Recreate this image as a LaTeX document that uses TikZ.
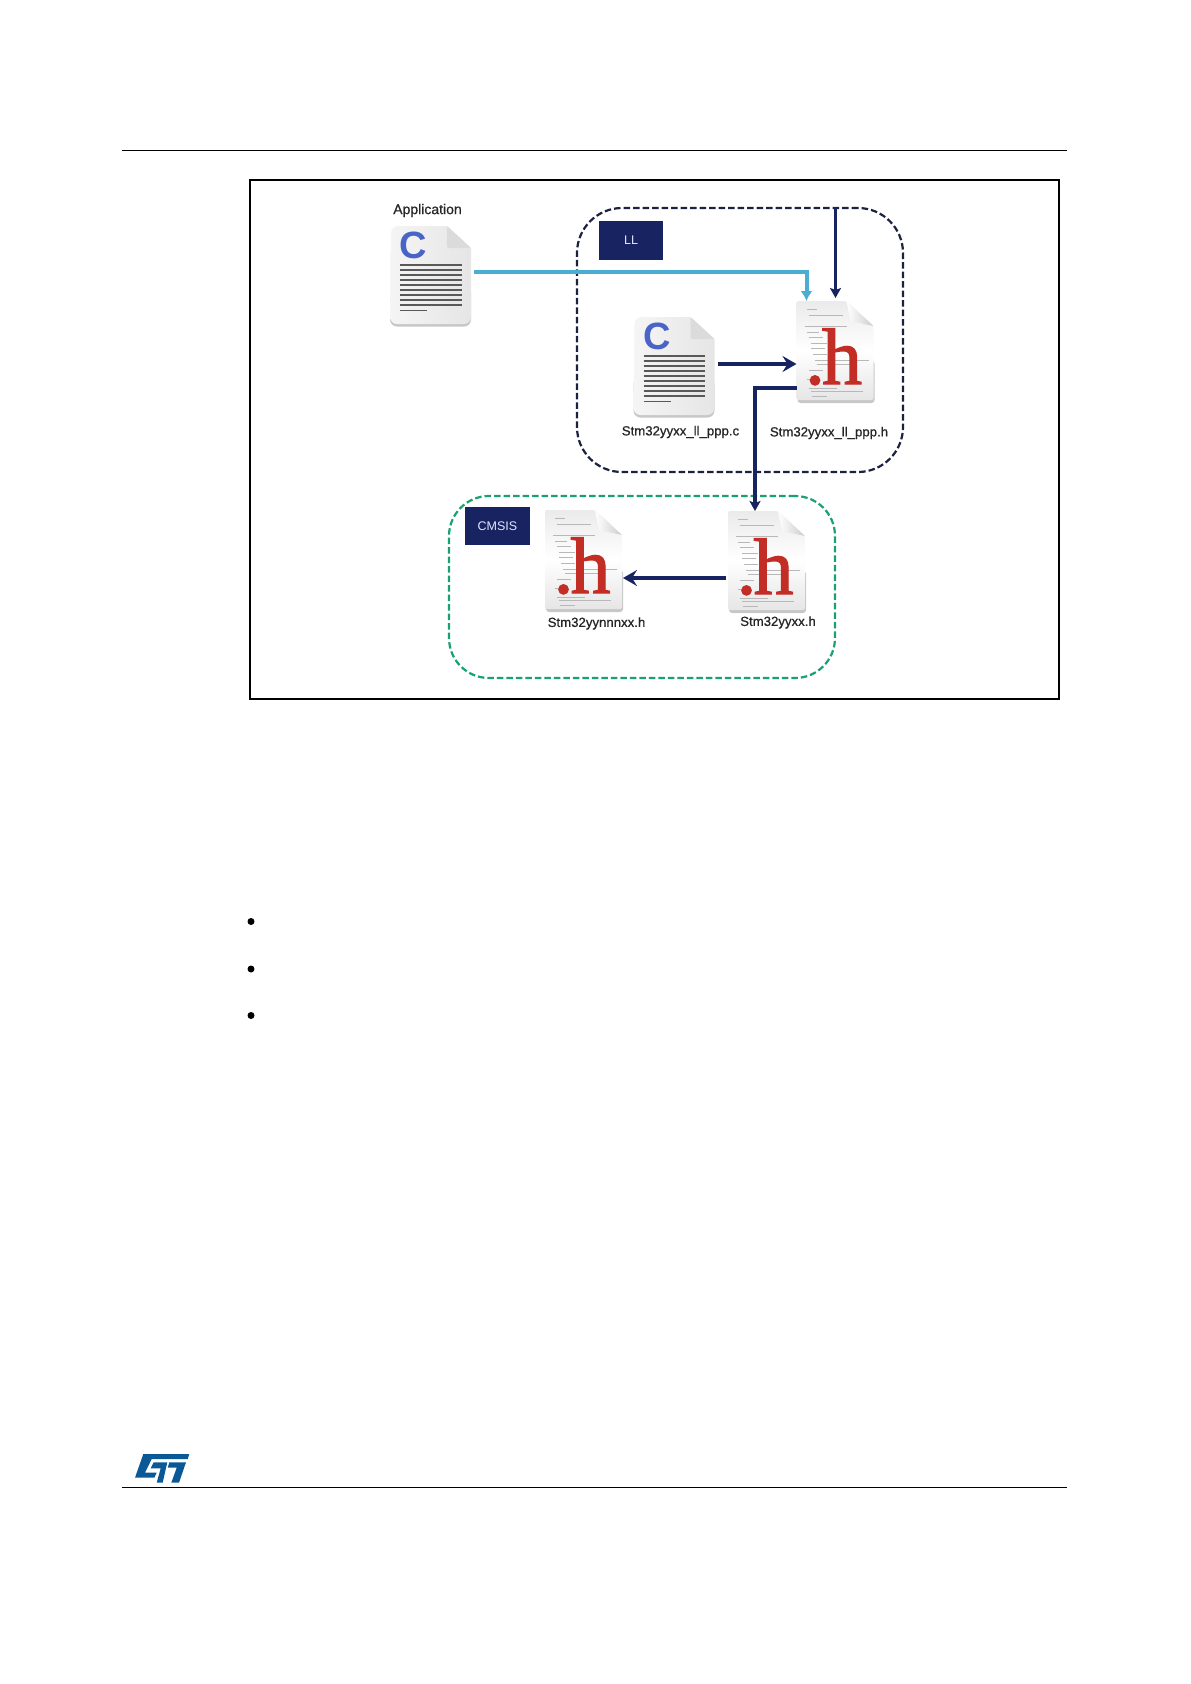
\documentclass[tikz,border=0pt]{standalone}
\usepackage{fontspec}
\setmainfont{Liberation Sans}
\newfontfamily\labelfont[FakeBold=0.8]{Liberation Sans}
\newfontfamily\serifh[FakeBold=1.5]{Liberation Serif}
\usetikzlibrary{arrows.meta,positioning,calc}
\definecolor{stnavy}{rgb}{0.09, 0.14, 0.38}
\definecolor{stink}{rgb}{0.11, 0.13, 0.25}
\definecolor{stgreen}{rgb}{0.10, 0.63, 0.44}
\definecolor{stcyan}{rgb}{0.29, 0.68, 0.82}
\definecolor{stblue}{rgb}{0.04, 0.35, 0.59}
\definecolor{cblue}{rgb}{0.29, 0.39, 0.78}
\definecolor{hred}{rgb}{0.76, 0.18, 0.15}
\tikzset{
  docbox/.style={minimum width=81pt, minimum height=100pt, inner sep=0pt, outer sep=0pt},
  hbox/.style={minimum width=78pt, minimum height=101pt, inner sep=0pt, outer sep=0pt},
  tagbox/.style={fill=stnavy, text=white!90!blue, font=\fontsize{12.5}{14}\selectfont, inner sep=0pt, outer sep=0pt},
  filelabel/.style={font=\labelfont\fontsize{13.2}{15}\selectfont, text=black!85, inner sep=0pt},
  navyarrow/.style={draw=stnavy, line width=3.6pt, -{Stealth[length=10pt,width=11pt,inset=2pt]}},
  widearrow/.style={draw=stnavy, line width=3.6pt, -{Stealth[length=14pt,width=16pt,inset=5pt]}},
  cyanarrow/.style={draw=stcyan, line width=4pt, -{Latex[length=10pt,width=12pt]}},
  bulletdot/.style={fill=black, circle, minimum size=7pt, inner sep=0pt},
  cdoc/.pic={
    \fill[black!22, rounded corners=7pt] (0,60) -- (0,100.5) -- (81,100.5) -- (81,60) -- cycle;
    \path[left color=black!4, right color=black!10, rounded corners=7pt] (20,0) [sharp corners] -- (57,0) -- (81,22) -- (81,60) [rounded corners=7pt] -- (81,98) -- (0,98) -- (1,0) -- cycle;
    \fill[black!14, rounded corners=2pt] (57,0) -- (57,22) -- (81,22) -- cycle;
    \foreach \yy in {39,44,49,54,59,64,69,74,79} {
      \draw[black!65, line width=1.4pt] (10,\yy) -- (71.5,\yy);
    }
    \draw[black!65, line width=1.4pt] (10,84.5) -- (37,84.5);
    \node[font=\bfseries\fontsize{38}{38}\selectfont, text=cblue, inner sep=0pt] (cmark) at (23.5,19.5) {C};
  },
  hdoc/.pic={
    \fill[black!22, rounded corners=3pt] (1,60) -- (1,102) -- (78,102) -- (78,60) -- cycle;
    \path[top color=black!8, bottom color=black!10, middle color=white, rounded corners=2pt] (0,0) -- (50,0) -- (77,25) -- (77,99) -- (0,99) -- cycle;
    \path[left color=white, right color=black!20] (50,0) -- (54,20) -- (77,25) -- cycle;
    \foreach \yy/\xa/\xb in {8/10/20, 14/12/46, 25/8/50, 31/10/22, 36/12/26, 42/14/30, 47/14/28, 53/16/30, 59/18/72, 63/20/60, 69/12/26, 78/10/18, 87/12/40, 90/14/66, 95/15/30} {
      \draw[black!28, line width=0.8pt] (\xa,\yy) -- (\xb,\yy);
    }
    \node[font=\serifh\fontsize{80}{80}\selectfont, text=hred, inner sep=0pt, anchor=base] (hmark) at (37,83) {.\kern-3pt h};
  }
}
\begin{document}
\begin{tikzpicture}[x=1pt,y=-1pt]
    \useasboundingbox (0,0) rectangle (1191,1684);

    \draw[line width=1pt] (122,150) -- (1067,150);
    \draw[line width=1pt] (122,1487) -- (1067,1487);
    \node[draw=black, line width=2pt, minimum width=809pt, minimum height=519pt, inner sep=0pt] (frame) at (654.5,439.5) {};

    \node[draw=stink, line width=2.2pt, dash pattern=on 6.5pt off 3pt, rounded corners=45pt, minimum width=326pt, minimum height=264pt, inner sep=0pt] (llgroup) at (740,340) {};
    \node[draw=stgreen, line width=2.2pt, dash pattern=on 6.5pt off 3pt, rounded corners=40pt, minimum width=386pt, minimum height=182pt, inner sep=0pt] (cmsisgroup) at (642,587) {};

    \node[tagbox, minimum width=64pt, minimum height=39pt] (lltag) at (631,240.5) {LL};
    \node[tagbox, minimum width=65pt, minimum height=38pt] (cmsistag) at (497.5,526) {CMSIS};

    \node[docbox] (appc) at (430.5,276) {};
    \node[docbox] (llc) at (674,367) {};
    \node[hbox] (ppph) at (835.5,351.5) {};
    \node[hbox] (yynnnxxh) at (584,560.5) {};
    \node[hbox] (yyxxh) at (767,561.5) {};

    \pic at (appc.north west) {cdoc};
    \pic at (llc.north west) {cdoc};
    \pic at (ppph.north west) {hdoc};
    \pic at (yynnnxxh.north west) {hdoc};
    \pic at (yyxxh.north west) {hdoc};

    \node[filelabel, font=\labelfont\fontsize{14}{16}\selectfont] (applabel) at (427.5,210.5) {Application};
    \node[filelabel] (llclabel) at (680.5,432) {Stm32yyxx\_ll\_ppp.c};
    \node[filelabel] (llhlabel) at (829,433) {Stm32yyxx\_ll\_ppp.h};
    \node[filelabel] (yynnnlabel) at (596.5,623.5) {Stm32yynnnxx.h};
    \node[filelabel] (yyxxlabel) at (778,622.5) {Stm32yyxx.h};

    \draw[cyanarrow] ([xshift=3,yshift=4]appc.east) -| ([xshift=10]ppph.north west);
    \draw[navyarrow] (ppph.north |- llgroup.north) -- ([yshift=3]ppph.north);
    \draw[widearrow] ([xshift=3,yshift=3]llc.east) -- ([yshift=-12.5]ppph.west);
    \draw[navyarrow] ([yshift=-36.5]ppph.west) -| ([xshift=-12]yyxxh.north);
    \draw[widearrow] ([xshift=-2,yshift=-16.5]yyxxh.west) -- ([yshift=-17.5]yynnnxxh.east);

    \node[bulletdot] (dota) at (251,921.5) {};
    \node[bulletdot] (dotb) at (251,969) {};
    \node[bulletdot] (dotc) at (251,1015.5) {};

    \fill[stblue] (143.3,1454) -- (189.3,1454) -- (187.7,1459) -- (151.7,1459) -- (145,1472.7) -- (156.7,1472.7) -- (154.3,1477.7) -- (135,1477.7) -- cycle;
    \fill[stblue] (153.7,1462.3) -- (167.3,1462.3) -- (162.7,1482.7) -- (156.7,1482.7) -- (160.7,1468.3) -- (150.7,1468.3) -- cycle;
    \fill[stblue] (169.3,1462.3) -- (186,1462.3) -- (179,1482.7) -- (171.3,1482.7) -- (176.7,1467.7) -- (167.7,1467.7) -- cycle;
\end{tikzpicture}
\end{document}
